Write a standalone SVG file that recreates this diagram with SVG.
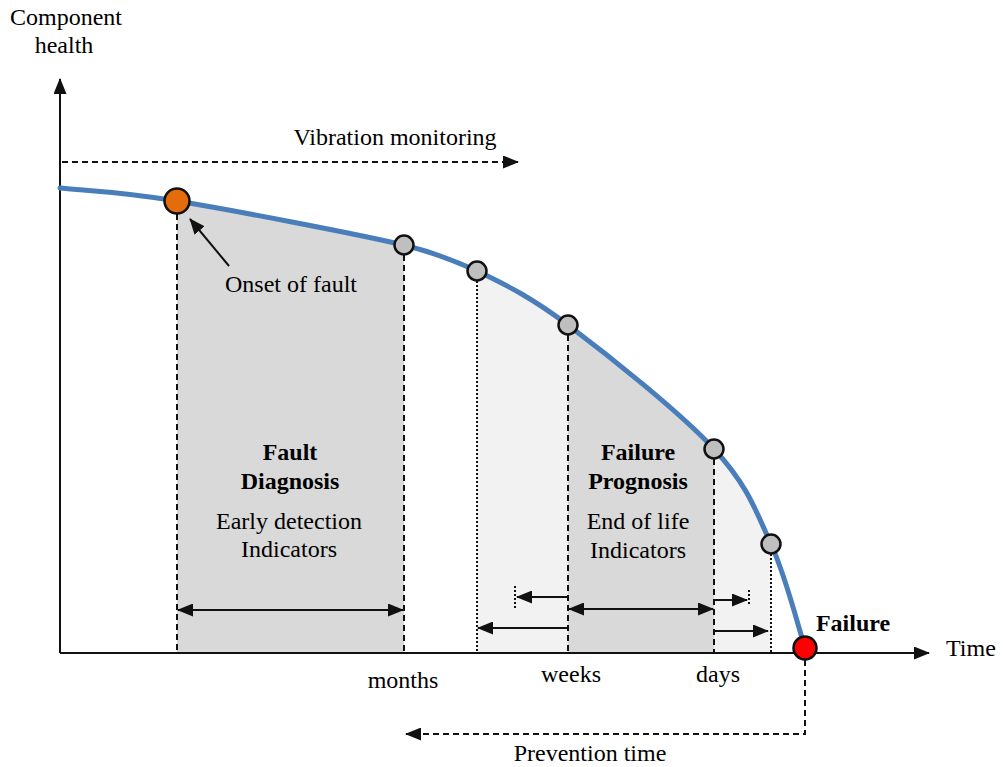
<svg xmlns="http://www.w3.org/2000/svg" width="1003" height="767" viewBox="0 0 1003 767">
  <style>
    text { font-family: "Liberation Serif", "Times New Roman", serif; font-size: 24px; fill: #000; }
    .b { font-weight: bold; }
    .mid { text-anchor: middle; }
    .axis { stroke: #111; stroke-width: 2; fill: none; }
    .dash { stroke: #111; stroke-width: 2; stroke-dasharray: 6 4; fill: none; }
    .dot { stroke: #111; stroke-width: 2; stroke-dasharray: 2 2; fill: none; }
    .arr { stroke: #111; stroke-width: 2; fill: none; }
    .dark { fill: #d9d9d9; }
    .light { fill: #f2f2f2; }
    .pt { fill: #bfbfbf; stroke: #111; stroke-width: 2.5; }
  </style>
  <defs>
    <marker id="ah" viewBox="0 0 16 13" refX="15" refY="6.5" markerWidth="16" markerHeight="13" markerUnits="userSpaceOnUse" orient="auto-start-reverse">
      <path d="M0,0 L16,6.5 L0,13 Z" fill="#111"/>
    </marker>
  </defs>

  <!-- shaded periods under the curve -->
  <g id="regions">
    <path class="dark" d="M177,201 C234.3,210.5 354,233.3 404,245 V653 H177 Z"/>
    <path class="light" d="M477,271 C504.3,284.3 528.5,295.3 568,325 V653 H477 Z"/>
    <path class="dark" d="M568,325 C607.5,354.7 680.2,412.5 714,449 V653 H568 Z"/>
    <path class="light" d="M714,449 C747.8,485.5 755.8,510.8 771,544 V653 H714 Z"/>
  </g>

  <!-- axes -->
  <g id="axes">
    <line class="axis" x1="60" y1="653" x2="60" y2="79" marker-end="url(#ah)"/>
    <line class="axis" x1="60" y1="653" x2="929" y2="653" marker-end="url(#ah)"/>
  </g>

  <!-- connectors: guides and interval arrows -->
  <g id="connectors">
    <line class="dash" x1="62" y1="162" x2="518" y2="162" marker-end="url(#ah)"/>
    <line class="dash" x1="177" y1="214" x2="177" y2="653"/>
    <line class="dash" x1="404" y1="255" x2="404" y2="653"/>
    <line class="dot" x1="477" y1="281" x2="477" y2="653"/>
    <line class="dash" x1="568" y1="335" x2="568" y2="653"/>
    <line class="dash" x1="714" y1="459" x2="714" y2="653"/>
    <line class="dot" x1="771" y1="554" x2="771" y2="653"/>
    <polyline class="dash" points="805,660 805,734 406,734" marker-end="url(#ah)"/>
    <line class="arr" x1="229" y1="266" x2="190" y2="219" marker-end="url(#ah)"/>
    <line class="arr" x1="178" y1="610" x2="403" y2="610" marker-start="url(#ah)" marker-end="url(#ah)"/>
    <line class="dot" x1="515" y1="586" x2="515" y2="609"/>
    <line class="arr" x1="568" y1="597" x2="517" y2="597" marker-end="url(#ah)"/>
    <line class="arr" x1="569" y1="609" x2="713" y2="609" marker-start="url(#ah)" marker-end="url(#ah)"/>
    <line class="arr" x1="568" y1="628" x2="478" y2="628" marker-end="url(#ah)"/>
    <line class="dot" x1="749" y1="590" x2="749" y2="606"/>
    <line class="arr" x1="714" y1="600" x2="747" y2="600" marker-end="url(#ah)"/>
    <line class="arr" x1="714" y1="631" x2="768" y2="631" marker-end="url(#ah)"/>
  </g>

  <!-- health curve -->
  <g id="curve">
    <path d="M60,188 C79.5,190.2 119.7,191.5 177,201 C234.3,210.5 354,233.3 404,245 C428,251 453,260 477,271 C504.3,284.3 528.5,295.3 568,325 C607.5,354.7 680.2,412.5 714,449 C747.8,485.5 755.8,510.8 771,544 C786.2,577.2 799.3,630.7 805,648" fill="none" stroke="#4a7ebb" stroke-width="5" stroke-linejoin="round" stroke-linecap="round"/>
  </g>

  <!-- points on the curve -->
  <g id="onset"><circle cx="177" cy="201" r="12.5" fill="#e46c0a" stroke="#111" stroke-width="2.5"/></g>
  <g id="p1"><circle class="pt" cx="404" cy="245" r="9.5"/></g>
  <g id="p2"><circle class="pt" cx="477" cy="271" r="9.5"/></g>
  <g id="p3"><circle class="pt" cx="568" cy="325" r="9.5"/></g>
  <g id="p4"><circle class="pt" cx="714" cy="449" r="9.5"/></g>
  <g id="p5"><circle class="pt" cx="771" cy="544" r="9.5"/></g>
  <g id="failure-point"><circle cx="805" cy="648" r="11.5" fill="#ff0000" stroke="#111" stroke-width="2.5"/></g>

  <!-- labels -->
  <g id="labels">
    <text class="mid" x="66" y="25">Component</text>
    <text class="mid" x="64" y="53">health</text>
    <text class="mid" x="395" y="145">Vibration monitoring</text>
    <text class="mid" x="291" y="292">Onset of fault</text>
    <text class="mid b" x="290" y="460">Fault</text>
    <text class="mid b" x="290" y="489">Diagnosis</text>
    <text class="mid" x="289" y="529">Early detection</text>
    <text class="mid" x="289" y="557">Indicators</text>
    <text class="mid b" x="638" y="460">Failure</text>
    <text class="mid b" x="638" y="489">Prognosis</text>
    <text class="mid" x="638" y="529">End of life</text>
    <text class="mid" x="638" y="558">Indicators</text>
    <text class="mid b" x="853" y="631">Failure</text>
    <text x="946" y="656">Time</text>
    <text class="mid" x="403" y="688">months</text>
    <text class="mid" x="571" y="682">weeks</text>
    <text class="mid" x="718" y="682">days</text>
    <text class="mid" x="590" y="761">Prevention time</text>
  </g>
</svg>
